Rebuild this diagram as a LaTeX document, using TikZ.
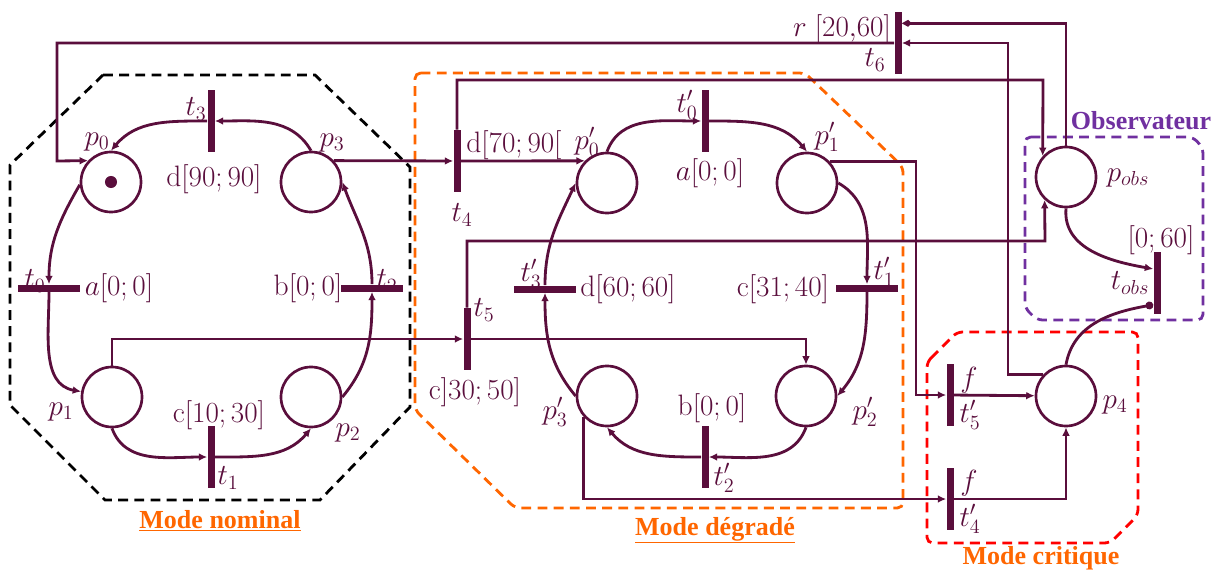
\documentclass[tikz,border=0pt]{standalone}
\usepackage{fontspec}
\usepackage{tikz}
\usetikzlibrary{arrows.meta, calc}
\definecolor{petri}{RGB}{90, 14, 60}
\definecolor{modeorange}{RGB}{255, 102, 0}
\definecolor{critred}{RGB}{255, 0, 0}
\definecolor{obspurple}{RGB}{112, 48, 160}
\newfontfamily\titlefont{Liberation Serif}
\newcommand{\lblsize}{\fontsize{21}{24}\selectfont}
\newcommand{\ttlsize}{\fontsize{18.5}{21}\selectfont}

\tikzset{
  place/.style={circle, draw=petri, fill=white, line width=1.9pt,
                minimum size=1.5cm, inner sep=0pt},
  vbar/.style={fill=petri, minimum width=0.175cm, minimum height=1.55cm, inner sep=0pt},
  hbar/.style={fill=petri, minimum width=1.55cm, minimum height=0.175cm, inner sep=0pt},
  flow/.style={draw=petri, line width=2pt, -{Latex[length=6pt, width=5.5pt]}},
  resetflow/.style={draw=petri, line width=2pt, -{Kite[length=7pt, width=5pt, inset=2.5pt]}},
  testflow/.style={draw=petri, line width=2pt, -{Circle[length=5.5pt]}},
  lbl/.style={text=petri, font=\lblsize, inner sep=0pt},
  zone/.style={line width=2pt, dash pattern=on 7pt off 4.5pt},
  ttl/.style={font=\titlefont\bfseries\ttlsize, inner sep=0pt, anchor=base}
}

\begin{document}
\begin{tikzpicture}[x=0.025cm, y=-0.025cm]
  \clip (0,0) rectangle (1218,572);

  %--- zones ---
  \draw[zone, black] (103,75) -- (315,75) -- (410,167) -- (410,407) -- (320,500)
    -- (105,500) -- (10,405) -- (10,165) -- cycle;
  \draw[zone, modeorange, rounded corners=4pt] (415,73) -- (805,73) -- (903,167)
    -- (903,508) -- (515,508) -- (415,410) -- cycle;
  \draw[zone, obspurple, rounded corners=4pt] (1025,137) -- (1193,137) -- (1203,148)
    -- (1203,320) -- (1037,320) -- (1025,308) -- cycle;
  \draw[zone, critred, rounded corners=4pt] (927,362) -- (957,332) -- (1138,332)
    -- (1138,515) -- (1110,543) -- (927,543) -- cycle;

  %--- places ---
  \node[place] (p0) at (111,182) {};
  \node[place] (p1) at (112,397) {};
  \node[place] (p2) at (311,397) {};
  \node[place] (p3) at (311,182) {};
  \node[place] (pd0) at (607,183) {};
  \node[place] (pd1) at (807,183) {};
  \node[place] (pd2) at (806,396) {};
  \node[place] (pd3) at (607,396) {};
  \node[place] (pobs) at (1066,177) {};
  \node[place] (p4) at (1066,396) {};
  \fill[petri] (p0.center) circle (4.3pt);

  %--- transitions ---
  \node[hbar] (t0) at (49,288) {};
  \node[vbar] (t1) at (211,457) {};
  \node[hbar] (t2) at (372,288) {};
  \node[vbar] (t3) at (211,121) {};
  \node[vbar] (t4) at (457,161) {};
  \node[vbar] (t5) at (467,339) {};
  \node[vbar] (t6) at (898,43) {};
  \node[vbar] (td0) at (705,121) {};
  \node[hbar] (td1) at (867,288) {};
  \node[vbar] (td2) at (705,457) {};
  \node[hbar] (td3) at (545,289) {};
  \node[vbar] (td4) at (950,499) {};
  \node[vbar] (td5) at (950,395) {};
  \node[vbar] (tobs) at (1157,283) {};

  %--- nominal cycle ---
  \draw[flow] (p0.185) to[out=240, in=90] (t0);
  \draw[flow] (t0) to[out=-90, in=170] (p1);
  \draw[flow] (p1.south) to[out=-70, in=180] (t1);
  \draw[flow] (t1) to[out=0, in=-130] (p2.south);
  \draw[flow] (p2.east) to[out=50, in=-90] (t2);
  \draw[flow] (t2) to[out=90, in=-70] (p3.east);
  \draw[flow] (p3.north) to[out=120, in=0] (t3);
  \draw[flow] (t3) to[out=180, in=50] (p0.north);

  %--- degraded cycle ---
  \draw[flow] (pd0.north) to[out=70, in=180] (td0);
  \draw[flow] (td0) to[out=0, in=130] (pd1.north);
  \draw[flow] (pd1.east) to[out=-30, in=90] (td1);
  \draw[flow] (td1) to[out=-90, in=50] (pd2.east);
  \draw[flow] (pd2.south) to[out=-110, in=0] (td2);
  \draw[flow] (td2) to[out=180, in=-50] (pd3.south);
  \draw[flow] (pd3.west) to[out=130, in=-90] (td3);
  \draw[flow] (td3) to[out=90, in=-115] (pd0.west);

  %--- links between modes ---
  \coordinate (k1) at (57,161);
  \coordinate (k2) at (1008,43);
  \coordinate (k3) at (1043,80);
  \coordinate (k4) at (1045,241);
  \coordinate (k5) at (916,395);
  \draw[flow] (p3.43) -- (t4);
  \draw[flow] (t4) -- (pd0.135);
  \draw[flow] (t4.north) |- (k3) -- (pobs.138);
  \draw[flow] (p1.north) |- (t5);
  \draw[flow] (t5) -| (pd2.north);
  \draw[flow] (t5.north) |- (k4) -- (pobs.227);
  \draw[flow] (pd1.43) -| (k5) -- (td5);
  \draw[flow] (td5) -- (p4);
  \draw[flow] (pd3.221) |- (td4);
  \draw[flow] (td4) -| (p4.south);
  \draw[flow] (t6) -| (k1) -- (p0.137);
  \draw[flow] (p4.137) -| (k2) -- (t6);
  \draw[resetflow] (pobs.north) |- ([yshift=14pt]t6.east);

  %--- observer ---
  \draw[flow] (pobs.south) to[out=-95, in=170] ([yshift=10pt]tobs.west);
  \draw[testflow] (p4.north) to[out=80, in=190] ([yshift=-15.5pt]tobs.west);

  %--- labels ---
  \node[lbl] (lp0) at (97,142) {$p_0$};
  \node[lbl] (lp1) at (61,412) {$p_1$};
  \node[lbl] (lp2) at (348,433) {$p_2$};
  \node[lbl] (lp3) at (332,143) {$p_3$};
  \node[lbl] (lt0) at (35,281) {$t_0$};
  \node[lbl] (lt1) at (228,478) {$t_1$};
  \node[lbl] (lt2) at (387,281) {$t_2$};
  \node[lbl] (lt3) at (196,109) {$t_3$};
  \node[lbl] (it0) at (119,288) {$a[0;0]$};
  \node[lbl] (it1) at (219,415) {$\mathrm{c}[10;30]$};
  \node[lbl] (it2) at (308,288) {$\mathrm{b}[0;0]$};
  \node[lbl] (it3) at (214,179) {$\mathrm{d}[90;90]$};
  \node[lbl] (lt4) at (462,215) {$t_4$};
  \node[lbl] (it4) at (514,145) {$\mathrm{d}[70;90[$};
  \node[lbl] (lt5) at (484,310) {$t_5$};
  \node[lbl] (it5) at (475,392) {$\mathrm{c}]30;50]$};
  \node[lbl] (lpd0) at (587,142) {$p'_0$};
  \node[lbl] (lpd1) at (827,137) {$p'_1$};
  \node[lbl] (lpd2) at (865,412) {$p'_2$};
  \node[lbl] (lpd3) at (555,412) {$p'_3$};
  \node[lbl] (ltd0) at (687,105) {$t'_0$};
  \node[lbl] (ltd1) at (884,272) {$t'_1$};
  \node[lbl] (ltd2) at (724,478) {$t'_2$};
  \node[lbl] (ltd3) at (531,274) {$t'_3$};
  \node[lbl] (itd0) at (710,173) {$a[0;0]$};
  \node[lbl] (itd1) at (783,289) {$\mathrm{c}[31;40]$};
  \node[lbl] (itd2) at (712,408) {$\mathrm{b}[0;0]$};
  \node[lbl] (itd3) at (628,289) {$\mathrm{d}[60;60]$};
  \node[lbl] (it6) at (842,29) {$r\;[20{,}60]$};
  \node[lbl] (lt6) at (875,60) {$t_6$};
  \node[lbl] (lpobs) at (1128,178) {$p_{obs}$};
  \node[lbl] (itobs) at (1161,240) {$[0;60]$};
  \node[lbl] (ltobs) at (1130,283) {$t_{obs}$};
  \node[lbl] (itd5) at (969,380) {$f$};
  \node[lbl] (ltd5) at (970,415) {$t'_5$};
  \node[lbl] (itd4) at (969,483) {$f$};
  \node[lbl] (ltd4) at (970,519) {$t'_4$};
  \node[lbl] (lp4) at (1115,405) {$p_4$};

  %--- zone titles ---
  \node[ttl, text=modeorange] (tnom) at (220,528) {\underline{Mode nominal}};
  \node[ttl, text=modeorange] (tdeg) at (715,535) {\underline{Mode dégradé}};
  \node[ttl, text=modeorange] (tcrit) at (1041,564.5) {\underline{Mode critique}};
  \node[ttl, text=obspurple] (tobsv) at (1141,129) {Observateur};
\end{tikzpicture}
\end{document}
